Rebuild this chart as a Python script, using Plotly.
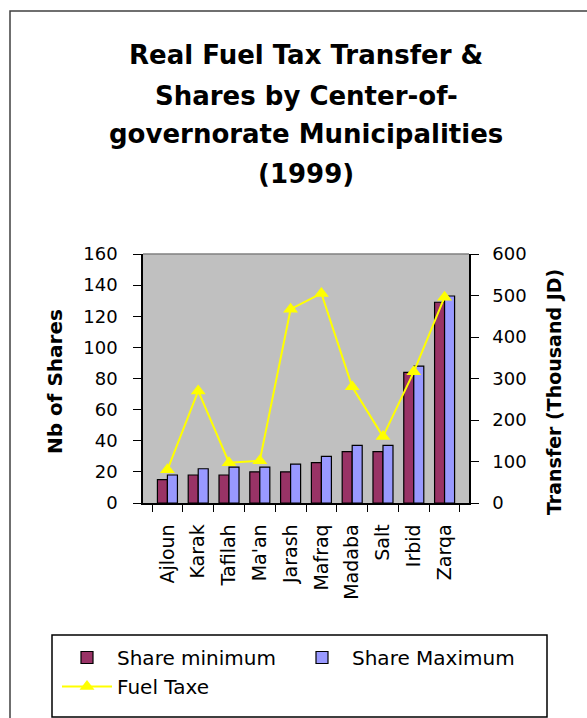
import plotly.graph_objects as go

categories = ["Ajloun", "Karak", "Tafilah", "Ma'an", "Jarash", "Mafraq", "Madaba", "Salt", "Irbid", "Zarqa"]
share_min = [15, 18, 18, 20, 20, 26, 33, 33, 84, 129]
share_max = [18, 22, 23, 23, 25, 30, 37, 37, 88, 133]
fuel_taxe = [80, 270, 97, 102, 467, 505, 280, 160, 316, 496]
title_lines = ["Real Fuel Tax Transfer &", "Shares by Center-of-", "governorate Municipalities", "(1999)"]

W, H = 587, 718
L, R, T, B = 143, 469, 254, 503
pw, ph = R - L, B - T


def px(x):
    return (x - L) / pw


def py(y):
    return (B - y) / ph


FONT = "DejaVu Sans"

fig = go.Figure()
fig.add_trace(go.Bar(x=categories, y=share_min, name="Share minimum",
                     marker=dict(color="#993366", line=dict(color="black", width=1.2))))
fig.add_trace(go.Bar(x=categories, y=share_max, name="Share Maximum",
                     marker=dict(color="#9999FF", line=dict(color="black", width=1.2))))
fig.add_trace(go.Scatter(x=categories, y=fuel_taxe, name="Fuel Taxe", yaxis="y2",
                         mode="lines+markers",
                         line=dict(color="#FFFF00", width=2),
                         marker=dict(symbol="triangle-up", size=13, color="#FFFF00")))

annotations = []
for t, yc in zip(title_lines, [55, 96, 134, 174]):
    annotations.append(dict(text=t, x=px(306), y=py(yc), xref="paper", yref="paper",
                            xanchor="center", yanchor="middle", showarrow=False,
                            font=dict(family=FONT, size=26, color="black", weight="bold")))
annotations.append(dict(text="Nb of Shares", x=px(55), y=py(382), xref="paper", yref="paper",
                        textangle=-90, xanchor="center", yanchor="middle", showarrow=False,
                        font=dict(family=FONT, size=20, color="black", weight="bold")))
annotations.append(dict(text="Transfer (Thousand JD)", x=px(554), y=py(392), xref="paper", yref="paper",
                        textangle=-90, xanchor="center", yanchor="middle", showarrow=False,
                        font=dict(family=FONT, size=19, color="black", weight="bold")))

shapes = [
    dict(type="rect", xref="paper", yref="paper", x0=px(10), x1=px(620), y0=py(760), y1=py(11),
         line=dict(color="#404040", width=1.5), fillcolor="rgba(0,0,0,0)", layer="below"),
    dict(type="line", xref="paper", yref="paper", x0=0, x1=1, y0=1, y1=1,
         line=dict(color="#808080", width=1.5)),
    dict(type="rect", xref="paper", yref="paper", x0=px(52), x1=px(547), y0=py(717), y1=py(635),
         line=dict(color="black", width=1.5), fillcolor="white", layer="below"),
]

fig.update_layout(
    width=W, height=H,
    margin=dict(l=L, r=W - R, t=T, b=H - B, autoexpand=False),
    paper_bgcolor="white", plot_bgcolor="#C0C0C0",
    barmode="group", bargap=0.35, bargroupgap=0,
    font=dict(family=FONT, size=17, color="black"),
    xaxis=dict(showgrid=False, showline=True, linecolor="black", linewidth=1.5,
               ticks="outside", ticklen=7, tickcolor="black", tickson="boundaries",
               tickangle=-90, tickfont=dict(family=FONT, size=19), ticklabelstandoff=12),
    yaxis=dict(range=[0, 160], dtick=20, showgrid=False, zeroline=False, showline=True,
               linecolor="black", linewidth=1.5, ticks="outside", ticklen=8, tickcolor="black",
               tickfont=dict(family=FONT, size=18), ticklabelstandoff=12),
    yaxis2=dict(range=[0, 600], dtick=100, overlaying="y", side="right", showgrid=False,
                zeroline=False, showline=True, linecolor="black", linewidth=1.5,
                ticks="outside", ticklen=8, tickcolor="black",
                tickfont=dict(family=FONT, size=18), ticklabelstandoff=10),
    legend=dict(orientation="h", x=px(57), y=py(638), xanchor="left", yanchor="top",
                bgcolor="rgba(0,0,0,0)", borderwidth=0,
                font=dict(family=FONT, size=20, color="black"),
                itemwidth=50, entrywidth=170, entrywidthmode="pixels",
                traceorder="normal"),
    annotations=annotations,
    shapes=shapes,
    showlegend=True,
)

fig.write_html("out.html", config={"displayModeBar": False},
               post_script="document.body.style.margin='0';document.body.style.overflow='hidden';")
